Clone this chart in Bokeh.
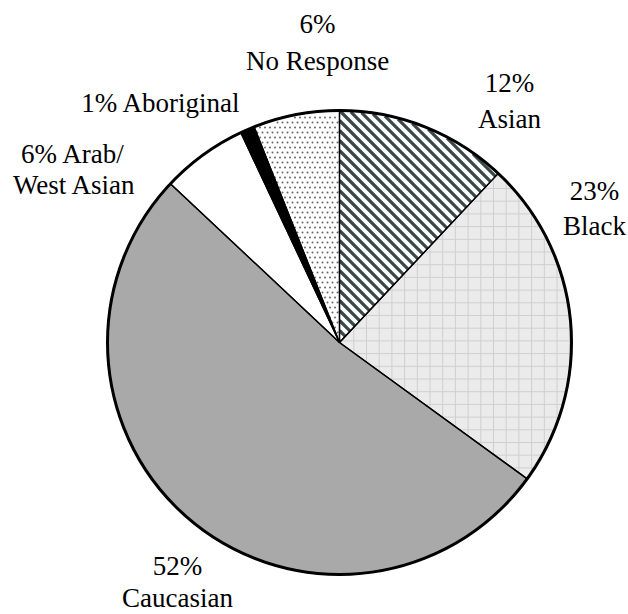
import math

from bokeh.core.properties import value
from bokeh.embed import file_html
from bokeh.models import ColumnDataSource, Range1d
from bokeh.plotting import figure
from bokeh.resources import INLINE

# Survey composition (percent), listed clockwise from 12 o'clock
groups = ["Asian", "Black", "Caucasian", "Arab/West Asian", "Aboriginal", "No Response"]
percents = [12, 23, 52, 6, 1, 6]
fills = ["white", "#ebebeb", "#a9a9a9", "white", "black", "white"]

W, H = 628, 614
CX, CY, R = 339, H - 342, 232
FONT_PX = 27

p = figure(width=W, height=H, x_range=Range1d(0, W), y_range=Range1d(0, H),
           output_backend="svg", toolbar_location=None, min_border=0)
p.axis.visible = False
p.grid.visible = False
p.outline_line_color = "white"

# wedge angles (radians), running clockwise from the top
total = float(sum(percents))
starts, ends = [], []
acc = 0.0
for v in percents:
    starts.append(math.pi / 2 - 2 * math.pi * acc / total)
    acc += v
    ends.append(math.pi / 2 - 2 * math.pi * acc / total)

# label lines: centre x and baseline y, measured from the top edge
pct = dict(zip(groups, percents))
label_text = [
    f"{pct['No Response']}%", "No Response",
    f"{pct['Aboriginal']}%  Aboriginal",
    f"{pct['Asian']}%", "Asian",
    f"{pct['Arab/West Asian']}%  Arab/", "West Asian",
    f"{pct['Black']}%", "Black",
    f"{pct['Caucasian']}%", "Caucasian",
]
label_cx = [317, 317, 164, 509, 509, 76, 75, 594, 594, 177, 177]
label_base = [33, 70, 112, 92, 128, 163, 194, 200, 235, 575, 607]

# advance widths of the serif face (em units), used to left-place centred lines
ADV = {"0": .5, "1": .5, "2": .5, "3": .5, "5": .5, "6": .5, "%": .833, " ": .25,
       "N": .722, "o": .5, "R": .667, "e": .444, "s": .389, "p": .5, "n": .5,
       "A": .722, "b": .5, "r": .333, "i": .278, "g": .5, "a": .444, "l": .278,
       "/": .278, "W": .944, "t": .278, "B": .667, "c": .444, "k": .5, "C": .667,
       "u": .5}
DESCENT = 0.216

for t, cx, base in zip(label_text, label_cx, label_base):
    width = sum(ADV.get(ch, .5) for ch in t) * FONT_PX
    p.text(x=[cx - width / 2], y=[H - (base + DESCENT * FONT_PX)], text=[t],
           text_font=value("Liberation Serif"), text_font_size=f"{FONT_PX}px")

wsrc = ColumnDataSource(dict(x=[CX] * len(groups), y=[CY] * len(groups),
                             a0=starts, a1=ends, fill=fills))
p.wedge(x="x", y="y", radius=R, start_angle="a0", end_angle="a1", direction="clock",
        source=wsrc, fill_color="fill", line_color=None)


def clip_to_wedge(px, py, dx, dy, a_lo, a_hi, r):
    """Clip the line (px,py)+t(dx,dy) to the sector between a_lo and a_hi (ccw)."""
    qx, qy = px - CX, py - CY
    A = dx * dx + dy * dy
    B = 2 * (qx * dx + qy * dy)
    C = qx * qx + qy * qy - r * r
    disc = B * B - 4 * A * C
    if disc <= 0:
        return None
    t0 = (-B - math.sqrt(disc)) / (2 * A)
    t1 = (-B + math.sqrt(disc)) / (2 * A)
    for ang, sgn in ((a_lo, 1.0), (a_hi, -1.0)):
        ux, uy = math.cos(ang), math.sin(ang)
        k0 = sgn * (ux * qy - uy * qx)
        k1 = sgn * (ux * dy - uy * dx)
        if abs(k1) < 1e-12:
            if k0 < 0:
                return None
            continue
        tt = -k0 / k1
        if k1 > 0:
            t0 = max(t0, tt)
        else:
            t1 = min(t1, tt)
    if t1 <= t0:
        return None
    return [px + t0 * dx, px + t1 * dx], [py + t0 * dy, py + t1 * dy]


def inside_wedge(x, y, a_lo, a_hi, r):
    qx, qy = x - CX, y - CY
    if qx * qx + qy * qy > r * r:
        return False
    c_lo = math.cos(a_lo) * qy - math.sin(a_lo) * qx
    c_hi = math.cos(a_hi) * qy - math.sin(a_hi) * qx
    return c_lo >= 0 and c_hi <= 0


idx = {g: i for i, g in enumerate(groups)}

# Asian: dark diagonal stripes
i = idx["Asian"]
xs, ys = [], []
c = CX + CY - 1.5 * R
while c < CX + CY + 1.5 * R:
    seg = clip_to_wedge(c - CY, CY, 1.0, -1.0, ends[i], starts[i], R - 1)
    if seg:
        xs.append(seg[0])
        ys.append(seg[1])
    c += 10.0
p.multi_line(xs=xs, ys=ys, line_color="#3b4848", line_width=3.2)

# Black: light grid
i = idx["Black"]
gx, gy = [], []
g = 5.0
while g < 2 * R + 10:
    for px, py, dx, dy in ((CX - R + g, CY, 0.0, 1.0), (CX, CY - R + g, 1.0, 0.0)):
        seg = clip_to_wedge(px, py, dx, dy, ends[i], starts[i], R - 1)
        if seg:
            gx.append(seg[0])
            gy.append(seg[1])
    g += 12.7
p.multi_line(xs=gx, ys=gy, line_color="#cfcfcf", line_width=1)

# No Response: staggered dot screen
i = idx["No Response"]
dxs, dys = [], []
sp = 5.0
row = 0
yy = CY
while yy < CY + R:
    xx = CX - R + ((sp / 2) if row % 2 else 0.0)
    while xx < CX + 5:
        if inside_wedge(xx, yy, ends[i], starts[i], R - 2.5):
            dxs.append(xx)
            dys.append(yy)
        xx += sp
    yy += sp
    row += 1
p.scatter(x=dxs, y=dys, marker="circle", size=2.0, fill_color="#666666", line_color=None)

# slice borders and a heavier rim
p.wedge(x="x", y="y", radius=R, start_angle="a0", end_angle="a1", direction="clock",
        source=wsrc, fill_color=None, line_color="black", line_width=1.3)
p.circle(x=[CX], y=[CY], radius=R, fill_color=None, line_color="black", line_width=3)

open("out.html", "w").write(file_html(p, INLINE))
